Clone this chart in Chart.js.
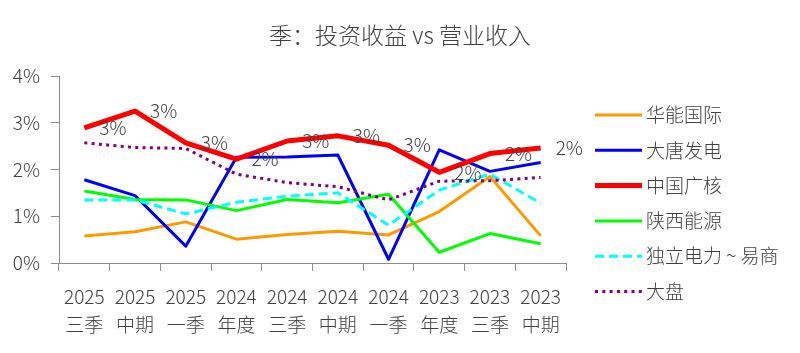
<!DOCTYPE html>
<html>
<head>
<meta charset="utf-8">
<script src="https://cdn.jsdelivr.net/npm/chart.js@4.4.0/dist/chart.umd.min.js"></script>
<style>
  html, body { margin: 0; padding: 0; background: #fff; }
</style>
</head>
<body>
<canvas id="chart" width="800" height="353"></canvas>
<script>
// Catégories (période)
const categories = [
    ['2025', '三季'], ['2025', '中期'], ['2025', '一季'], ['2024', '年度'], ['2024', '三季'],
    ['2024', '中期'], ['2024', '一季'], ['2023', '年度'], ['2023', '三季'], ['2023', '中期']
];

// Séries (en %)
const huaneng  = [0.58, 0.67, 0.88, 0.51, 0.61, 0.68, 0.60, 1.10, 1.85, 0.58];
const datang   = [1.78, 1.44, 0.36, 2.26, 2.27, 2.31, 0.08, 2.42, 1.96, 2.15];
const cgn      = [2.89, 3.25, 2.57, 2.22, 2.61, 2.72, 2.52, 1.94, 2.34, 2.46];
const shaanxi  = [1.54, 1.36, 1.35, 1.12, 1.36, 1.29, 1.47, 0.23, 0.63, 0.41];
const independ = [1.35, 1.35, 1.05, 1.30, 1.43, 1.50, 0.81, 1.56, 1.90, 1.28];
const market   = [2.57, 2.47, 2.45, 1.90, 1.72, 1.63, 1.35, 1.75, 1.76, 1.83];

const yTicks = [0, 1, 2, 3, 4];

const TITLE = '季：投资收益 vs 营业收入';
const FONT = "'Noto Sans CJK SC', 'Noto Sans', sans-serif";
const TEXT = '#404040';
const AXIS = '#8c8c8c';

function line(label, data, color, width, dash) {
    return {
        label: label,
        data: data,
        borderColor: color,
        backgroundColor: color,
        borderWidth: width,
        borderDash: dash || [],
        borderJoinStyle: 'round',
        pointRadius: 0,
        tension: 0,
        fill: false
    };
}

const datasets = [
    line('华能国际', huaneng, '#ff9900', 3),
    line('大唐发电', datang, '#0000ff', 3),
    line('中国广核', cgn, '#ff0000', 5),
    line('陕西能源', shaanxi, '#00ff00', 3),
    line('独立电力 ~ 易商', independ, '#00ffff', 3, [9, 5]),
    line('大盘', market, '#800080', 3, [3, 4.3])
];
// ordre Excel : la dernière série par-dessus
datasets.forEach((d, i) => { d.order = -i; });

// Étiquettes de données du 中国广核
const cgnLabels = {
    id: 'cgnLabels',
    afterDatasetsDraw(chart) {
        const meta = chart.getDatasetMeta(2);
        const ctx = chart.ctx;
        ctx.save();
        ctx.font = '300 19px ' + FONT;
        ctx.fillStyle = TEXT;
        ctx.textAlign = 'left';
        ctx.textBaseline = 'middle';
        meta.data.forEach((pt, i) => {
            ctx.fillText(Math.round(cgn[i]) + '%', pt.x + 15, pt.y);
        });
        ctx.restore();
    }
};

// Titre centré sur toute la largeur + légende à droite
const titleAndLegend = {
    id: 'titleAndLegend',
    afterDraw(chart) {
        const ctx = chart.ctx;
        ctx.save();
        ctx.font = '300 23px ' + FONT;
        ctx.fillStyle = TEXT;
        ctx.textAlign = 'center';
        ctx.textBaseline = 'middle';
        ctx.fillText(TITLE, chart.width / 2, 35);

        const x0 = chart.chartArea.right + 29;
        ctx.font = '300 19px ' + FONT;
        ctx.textAlign = 'left';
        chart.data.datasets.forEach((ds, i) => {
            const y = 115 + i * 35.3;
            ctx.beginPath();
            ctx.strokeStyle = ds.borderColor;
            ctx.lineWidth = ds.borderWidth;
            ctx.setLineDash(ds.borderDash);
            ctx.moveTo(x0, y);
            ctx.lineTo(x0 + 47, y);
            ctx.stroke();
            ctx.setLineDash([]);
            ctx.fillText(ds.label, x0 + 51, y);
        });
        ctx.restore();
    }
};

new Chart(document.getElementById('chart'), {
    type: 'line',
    data: { labels: categories, datasets: datasets },
    plugins: [cgnLabels, titleAndLegend],
    options: {
        responsive: false,
        animation: false,
        devicePixelRatio: 1,
        layout: { padding: { left: 10, right: 234, top: 76, bottom: 0 } },
        plugins: {
            legend: { display: false },
            tooltip: { enabled: false },
            title: { display: false }
        },
        scales: {
            x: {
                offset: true,
                grid: { offset: true, drawOnChartArea: false, tickLength: 8, color: AXIS },
                border: { color: AXIS, width: 1 },
                ticks: {
                    color: TEXT,
                    padding: 12,
                    maxRotation: 0,
                    autoSkip: false,
                    font: { family: FONT, size: 19, weight: 300, lineHeight: 1.47 }
                },
                afterFit(scale) { scale.height = 90; }
            },
            y: {
                min: 0,
                max: 4,
                afterBuildTicks(scale) { scale.ticks = yTicks.map(v => ({ value: v })); },
                grid: { drawOnChartArea: false, tickLength: 8, color: AXIS },
                border: { color: AXIS, width: 1 },
                ticks: {
                    color: TEXT,
                    padding: 11,
                    font: { family: FONT, size: 19, weight: 300 },
                    callback: v => v + '%'
                },
                afterFit(scale) { scale.width = 49; }
            }
        }
    }
});
</script>
</body>
</html>
